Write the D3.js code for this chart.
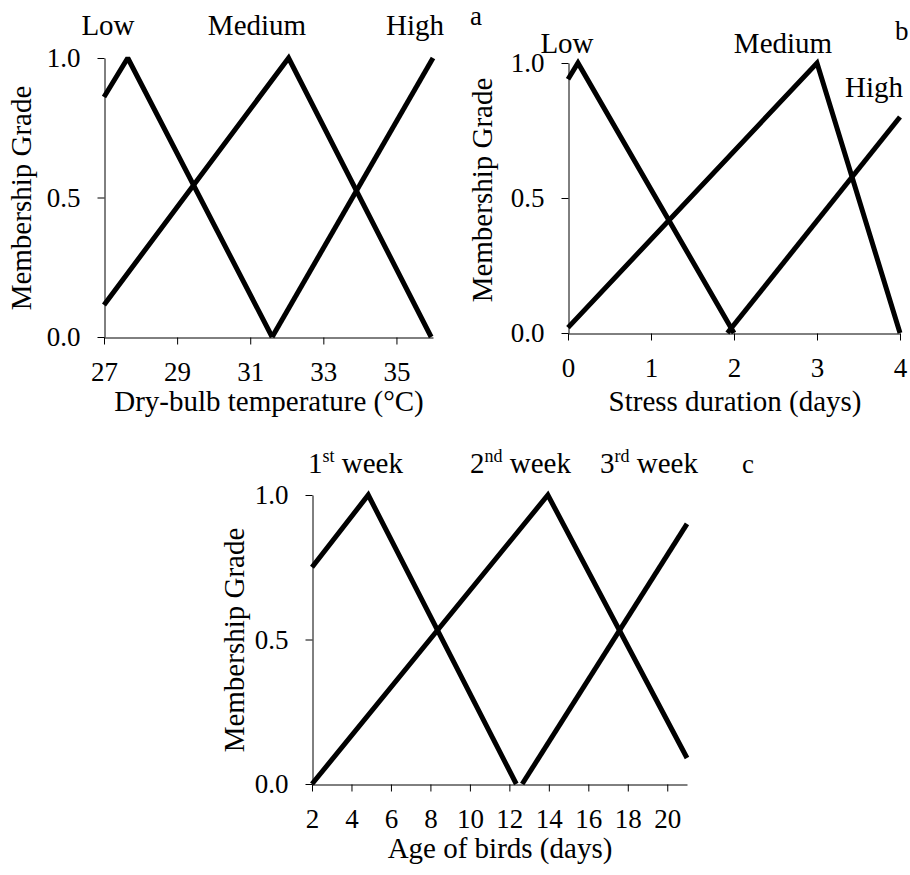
<!DOCTYPE html>
<html lang="en">
<head>
  <meta charset="utf-8">
  <title>Membership functions</title>
  <style>
    html,body { margin:0; padding:0; background:#fff; }
    svg { display:block; }
  </style>
  <script src="https://d3js.org/d3.v7.min.js"></script>
</head>
<body>
<svg width="910" height="875"></svg>
<script>
// membership curves, [x, grade] breakpoints

// (a) dry-bulb temperature
const tempTicks = [27, 29, 31, 33, 35];
const tempLow    = [[27, 0.86], [27.65, 1], [31.6, 0]];
const tempMedium = [[27, 0.115], [32.05, 1], [35.95, 0]];
const tempHigh   = [[31.6, 0], [36, 1]];

// (b) stress duration
const durTicks = [0, 1, 2, 3, 4];
const durLow    = [[0, 0.94], [0.12, 1], [2, 0]];
const durMedium = [[0, 0.02], [3, 1], [4, 0]];
const durHigh   = [[1.92, 0], [4, 0.8]];

// (c) age of birds
const ageTicks = [2, 4, 6, 8, 10, 12, 14, 16, 18, 20];
const ageWeek1 = [[2, 0.75], [4.85, 1], [12.35, 0]];
const ageWeek2 = [[2, 0], [13.95, 1], [21, 0.09]];
const ageWeek3 = [[12.65, 0], [21, 0.9]];

const gradeTicks = [0, 0.5, 1];

const FONT = "'Times New Roman', Times, 'Liberation Serif', 'Noto Serif', 'DejaVu Serif', FreeSerif, serif";
const svg = d3.select("svg");

const panels = [
  {
    letter: "a", letterPos: [470, 25],
    xDomain: [27, 36], ticks: tempTicks,
    left: 104, right: 433, top: 58, bottom: 337,
    series: [tempLow, tempMedium, tempHigh],
    title: "Dry-bulb temperature (\u00b0C)", titleX: 269, titleY: 411,
    yTitle: [31, 198],
    labels: [
      {parts: [["Low"]], x: 108, y: 35, anchor: "middle"},
      {parts: [["Medium"]], x: 257, y: 35, anchor: "middle"},
      {parts: [["High"]], x: 415, y: 35, anchor: "middle"}
    ]
  },
  {
    letter: "b", letterPos: [895, 40],
    xDomain: [0, 4], ticks: durTicks,
    left: 568, right: 900, top: 63, bottom: 333,
    series: [durLow, durMedium, durHigh],
    title: "Stress duration (days)", titleX: 735, titleY: 411,
    yTitle: [492, 190],
    labels: [
      {parts: [["Low"]], x: 567, y: 53, anchor: "middle"},
      {parts: [["Medium"]], x: 783, y: 53, anchor: "middle"},
      {parts: [["High"]], x: 874, y: 97, anchor: "middle"}
    ]
  },
  {
    letter: "c", letterPos: [742, 473],
    xDomain: [2, 21], ticks: ageTicks,
    left: 312, right: 687, top: 495, bottom: 784,
    series: [ageWeek1, ageWeek2, ageWeek3],
    title: "Age of birds (days)", titleX: 500, titleY: 858,
    yTitle: [244, 640],
    labels: [
      {parts: [["1"], ["st", "sup"], [" week"]], x: 308, y: 473, anchor: "start"},
      {parts: [["2"], ["nd", "sup"], [" week"]], x: 470, y: 473, anchor: "start"},
      {parts: [["3"], ["rd", "sup"], [" week"]], x: 600, y: 473, anchor: "start"}
    ]
  }
];

panels.forEach(p => {
  const x = d3.scaleLinear().domain(p.xDomain).range([p.left, p.right]);
  const y = d3.scaleLinear().domain([0, 1]).range([p.bottom, p.top]);
  const g = svg.append("g").attr("font-family", FONT);

  const xAxis = g.append("g")
    .attr("transform", `translate(0,${p.bottom + 0.5})`)
    .call(d3.axisBottom(x).tickValues(p.ticks).tickFormat(d3.format("d"))
      .tickSize(7).tickSizeOuter(0).tickPadding(17));
  const yAxis = g.append("g")
    .attr("transform", `translate(${p.left + 0.5},0)`)
    .call(d3.axisLeft(y).tickValues(gradeTicks).tickFormat(d3.format(".1f"))
      .tickSize(7).tickSizeOuter(0).tickPadding(17));

  [xAxis, yAxis].forEach(a => {
    a.attr("font-family", FONT).attr("font-size", 27);
    a.selectAll("path, line").attr("stroke", "#000").attr("stroke-width", 1);
    a.selectAll("text").attr("fill", "#000");
  });

  const line = d3.line().x(d => x(d[0])).y(d => y(d[1]));
  g.selectAll("path.mf")
    .data(p.series)
    .enter().append("path")
      .attr("class", "mf")
      .attr("d", line)
      .attr("fill", "none")
      .attr("stroke", "#000")
      .attr("stroke-width", 5)
      .attr("stroke-linejoin", "miter")
      .attr("stroke-miterlimit", 2);

  g.append("text")
    .attr("x", p.titleX).attr("y", p.titleY)
    .attr("text-anchor", "middle")
    .attr("font-size", 29)
    .text(p.title);

  g.append("text")
    .attr("transform", `translate(${p.yTitle[0]},${p.yTitle[1]}) rotate(-90)`)
    .attr("text-anchor", "middle")
    .attr("font-size", 29)
    .text("Membership Grade");

  p.labels.forEach(l => {
    const t = g.append("text")
      .attr("x", l.x).attr("y", l.y)
      .attr("text-anchor", l.anchor)
      .attr("font-size", 29);
    l.parts.forEach(([s, kind], i) => {
      const ts = t.append("tspan").text(s);
      if (kind === "sup") ts.attr("font-size", 18).attr("dy", -11);
      else if (i > 0) ts.attr("dy", 11);
    });
  });

  g.append("text")
    .attr("x", p.letterPos[0]).attr("y", p.letterPos[1])
    .attr("font-size", 27)
    .text(p.letter);
});
</script>
</body>
</html>
